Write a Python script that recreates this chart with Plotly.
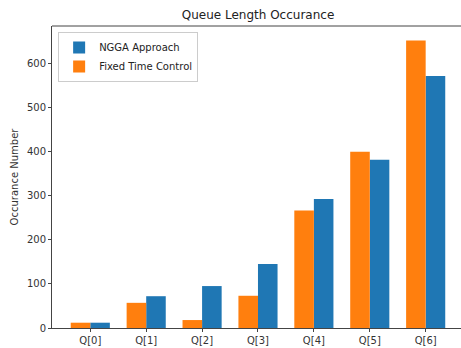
import plotly.graph_objects as go

categories = ["Q[0]", "Q[1]", "Q[2]", "Q[3]", "Q[4]", "Q[5]", "Q[6]"]
ngga = [12, 72, 95, 145, 292, 381, 571]
fixed = [12, 57, 18, 73, 266, 399, 651]
yticks = [0, 100, 200, 300, 400, 500, 600]

xs = list(range(len(categories)))
W = 0.35

fig = go.Figure()
fig.add_trace(go.Bar(x=xs, y=ngga, name="NGGA Approach", marker_color="#1f77b4",
                     marker_line_width=0, width=W, offset=0, legendrank=1))
fig.add_trace(go.Bar(x=xs, y=fixed, name="Fixed Time Control", marker_color="#ff7f0e",
                     marker_line_width=0, width=W, offset=-W, legendrank=2))

font = "DejaVu Sans, sans-serif"
fig.update_layout(
    width=461, height=348,
    margin=dict(l=52, r=0, t=26, b=20),
    paper_bgcolor="white", plot_bgcolor="white",
    font=dict(family=font, size=10, color="#333333"),
    title=dict(text="Queue Length Occurance", x=258/461, xanchor="center",
               y=1-15/348, yanchor="middle", font=dict(size=12, color="#222222")),
    showlegend=True,
    legend=dict(x=0.015, y=0.98, xanchor="left", yanchor="top",
                bgcolor="rgba(255,255,255,0.8)", bordercolor="#cccccc", borderwidth=1,
                font=dict(size=10, color="#222222"), tracegroupgap=0,
                itemwidth=30),
    xaxis=dict(range=[-0.685, 6.632], tickvals=xs, ticktext=categories,
               showgrid=False, zeroline=False, showline=True, linecolor="#444444",
               linewidth=1, ticks="outside", ticklen=3, tickcolor="#444444"),
    yaxis=dict(range=[0, 684], tickvals=yticks, showgrid=False, zeroline=False,
               showline=True, linecolor="#444444", linewidth=1, ticks="outside",
               ticklen=3, tickcolor="#444444",
               title=dict(text="Occurance Number", font=dict(size=10), standoff=6)),
    shapes=[dict(type="line", xref="paper", yref="paper", x0=0, x1=1, y0=1, y1=1,
                 line=dict(color="#444444", width=1))],
)

fig.write_html("out.html")
